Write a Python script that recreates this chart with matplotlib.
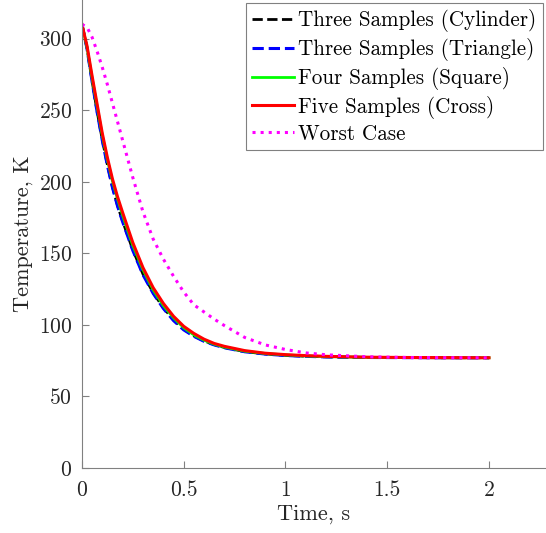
import numpy as np
import matplotlib
matplotlib.use('Agg')
import matplotlib.pyplot as plt

# Lectures aproximades de la figura (temps en s, temperatura en K)
t = [0, 0.025, 0.05, 0.075, 0.1, 0.125, 0.15, 0.175, 0.2, 0.25, 0.3, 0.35, 0.4,
     0.45, 0.5, 0.55, 0.6, 0.65, 0.7, 0.8, 0.9, 1.0, 1.1, 1.2, 1.4, 1.6, 1.8, 2.0]

temp_cylinder = [310, 293.5, 270.5, 249, 229.5, 212, 196.5, 183.5, 172.5, 152.5,
                 135.5, 122.5, 112, 103.5, 97, 92.3, 88.8, 86.2, 84.2, 81.3, 79.7,
                 78.7, 78.05, 77.65, 77.2, 77.1, 77, 77]
temp_triangle = [310, 293, 270, 248.5, 229, 211.5, 196, 183, 172, 152, 135, 122, 111.5,
                 103, 96.5, 92, 88.5, 86, 84, 81.2, 79.6, 78.6, 78, 77.6, 77.2,
                 77.1, 77, 77]
temp_square = [310, 294, 272.5, 252.5, 232.5, 215.5, 200.5, 188, 176.5, 155.5, 138.5,
               124.5, 113.5, 105, 98, 93, 89.3, 86.5, 84.5, 81.6, 80, 79, 78.3, 77.8,
               77.3, 77.15, 77.05, 77]
temp_cross = [310, 295, 274, 254, 234, 217, 202, 189.5, 178.5, 157.5, 140, 126, 115,
              106, 99, 94, 90, 87, 85, 82, 80.2, 79.2, 78.5, 78, 77.4, 77.2, 77.1, 77]
temp_worst = [310, 308, 301, 291, 280, 268, 255, 242, 229, 203, 179, 160, 146, 134,
              123, 114, 109, 104, 99.5, 91.2, 86, 82.8, 80.4, 79.1, 77.7, 77.2,
              77.05, 77]

labels = ['Three Samples (Cylinder)', 'Three Samples (Triangle)',
          'Four Samples (Square)', 'Five Samples (Cross)', 'Worst Case']

plt.rcParams['font.family'] = 'cmr10'
plt.rcParams['axes.formatter.use_mathtext'] = True

fig = plt.figure(figsize=(5.46, 5.33), dpi=100)
ax = fig.add_axes([0.150, 0.122, 0.850, 0.878])

ax.plot(t, temp_cylinder, '--', color='black', lw=2.0, label=labels[0])
ax.plot(t, temp_triangle, '--', color='blue', lw=2.2, label=labels[1])
ax.plot(t, temp_square, '-', color='#00ff00', lw=2.0, label=labels[2])
ax.plot(t, temp_cross, '-', color='red', lw=2.2, label=labels[3])
ax.plot(t, temp_worst, ':', color='magenta', lw=2.2, label=labels[4])

ax.set_xlim(0, 2.28)
ax.set_ylim(0, 327)
ax.set_xticks([0, 0.5, 1, 1.5, 2])
ax.set_xticklabels(['0', '0.5', '1', '1.5', '2'])
ax.set_yticks(np.arange(0, 301, 50))

for s in ['top', 'right']:
    ax.spines[s].set_visible(False)
for s in ['left', 'bottom']:
    ax.spines[s].set_color('#808080')
    ax.spines[s].set_linewidth(0.8)
ax.tick_params(direction='in', length=5, color='#808080', labelsize=15.5,
               labelcolor='#262626')
ax.tick_params(axis='x', pad=9)
ax.tick_params(axis='y', pad=7)

ax.set_xlabel('Time, s', fontsize=16, color='#262626', labelpad=3)
ax.set_ylabel('Temperature, K', fontsize=16, color='#262626', labelpad=4)

leg = ax.legend(loc='upper right', fontsize=15.2, handlelength=2.0,
                handletextpad=0.2, labelspacing=0.27, borderpad=0.3,
                borderaxespad=0.15, fancybox=False, framealpha=1)
leg.get_frame().set_edgecolor('#808080')
leg.get_frame().set_linewidth(0.8)

fig.savefig('out.png', dpi=100)
